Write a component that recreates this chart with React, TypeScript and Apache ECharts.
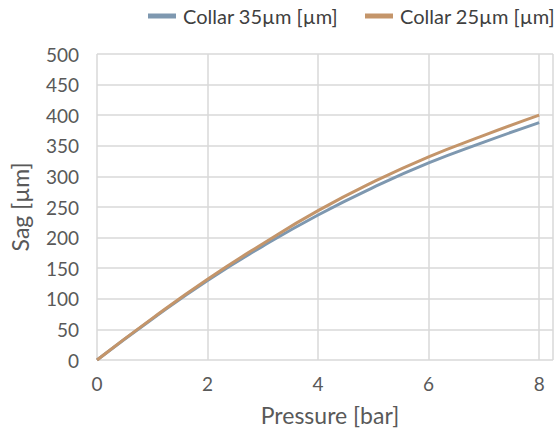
import React, { useEffect, useRef } from "react";
import * as echarts from "echarts";

const pressure = [0, 1, 2, 3, 4, 5, 6, 7, 8];
const collar35 = [0, 67, 130, 186, 237, 282, 322, 356, 388];
const collar25 = [0, 68, 132, 190, 244, 291, 332, 367, 400];
const yTicks = [0, 50, 100, 150, 200, 250, 300, 350, 400, 450, 500];
const seriesNames = ["Collar 35\u00b5m [\u00b5m]", "Collar 25\u00b5m [\u00b5m]"];

export default function App() {
  const ref = useRef<HTMLDivElement>(null);
  useEffect(() => {
    const chart = echarts.init(ref.current!, null, { renderer: "svg" });
    const font = "Lato, 'Open Sans', sans-serif";
    const legendBase = {
      top: 6,
      padding: 0,
      itemWidth: 28,
      itemHeight: 5,
      icon: "rect",
      textStyle: { fontSize: 20, color: "#404040", fontFamily: font, padding: [0, 0, 0, 2] },
    };
    chart.setOption({
      animation: false,
      backgroundColor: "#ffffff",
      textStyle: { fontFamily: font },
      legend: [
        { ...legendBase, left: 148, data: [seriesNames[0]] },
        { ...legendBase, left: 365, data: [seriesNames[1]] },
      ],
      grid: { left: 96, top: 54, right: 1, bottom: 74 },
      xAxis: {
        type: "value",
        min: 0,
        max: 8.25,
        interval: 2,
        name: "Pressure [bar]",
        nameLocation: "middle",
        nameGap: 43,
        nameTextStyle: { fontSize: 23, color: "#595959", fontFamily: font, padding: [0, 0, 0, 10] },
        axisLine: { show: false },
        axisTick: { show: false },
        axisLabel: {
          fontSize: 19,
          color: "#595959",
          margin: 14,
          showMaxLabel: false,
          formatter: (v: number) => (Number.isInteger(v) ? String(v) : ""),
        },
        splitLine: { show: true, lineStyle: { color: "#d9d9d9", width: 1.5 } },
      },
      yAxis: {
        type: "value",
        min: yTicks[0],
        max: yTicks[yTicks.length - 1],
        interval: 50,
        name: "Sag [\u00b5m]",
        nameLocation: "middle",
        nameGap: 66,
        nameTextStyle: { fontSize: 23, color: "#595959", fontFamily: font },
        axisLine: { show: false },
        axisTick: { show: false },
        axisLabel: { fontSize: 19, color: "#595959", margin: 18 },
        splitLine: { show: true, lineStyle: { color: "#d9d9d9", width: 1.5 } },
      },
      series: [
        {
          name: seriesNames[0],
          type: "line",
          smooth: true,
          showSymbol: false,
          data: pressure.map((p, i) => [p, collar35[i]]),
          lineStyle: { color: "#7e98b0", width: 3 },
          itemStyle: { color: "#7e98b0" },
        },
        {
          name: seriesNames[1],
          type: "line",
          smooth: true,
          showSymbol: false,
          data: pressure.map((p, i) => [p, collar25[i]]),
          lineStyle: { color: "#c4956a", width: 3 },
          itemStyle: { color: "#c4956a" },
        },
      ],
    });
    return () => chart.dispose();
  }, []);
  return <div ref={ref} style={{ width: 554, height: 434, position: "absolute", left: 0, top: 0 }} />;
}
